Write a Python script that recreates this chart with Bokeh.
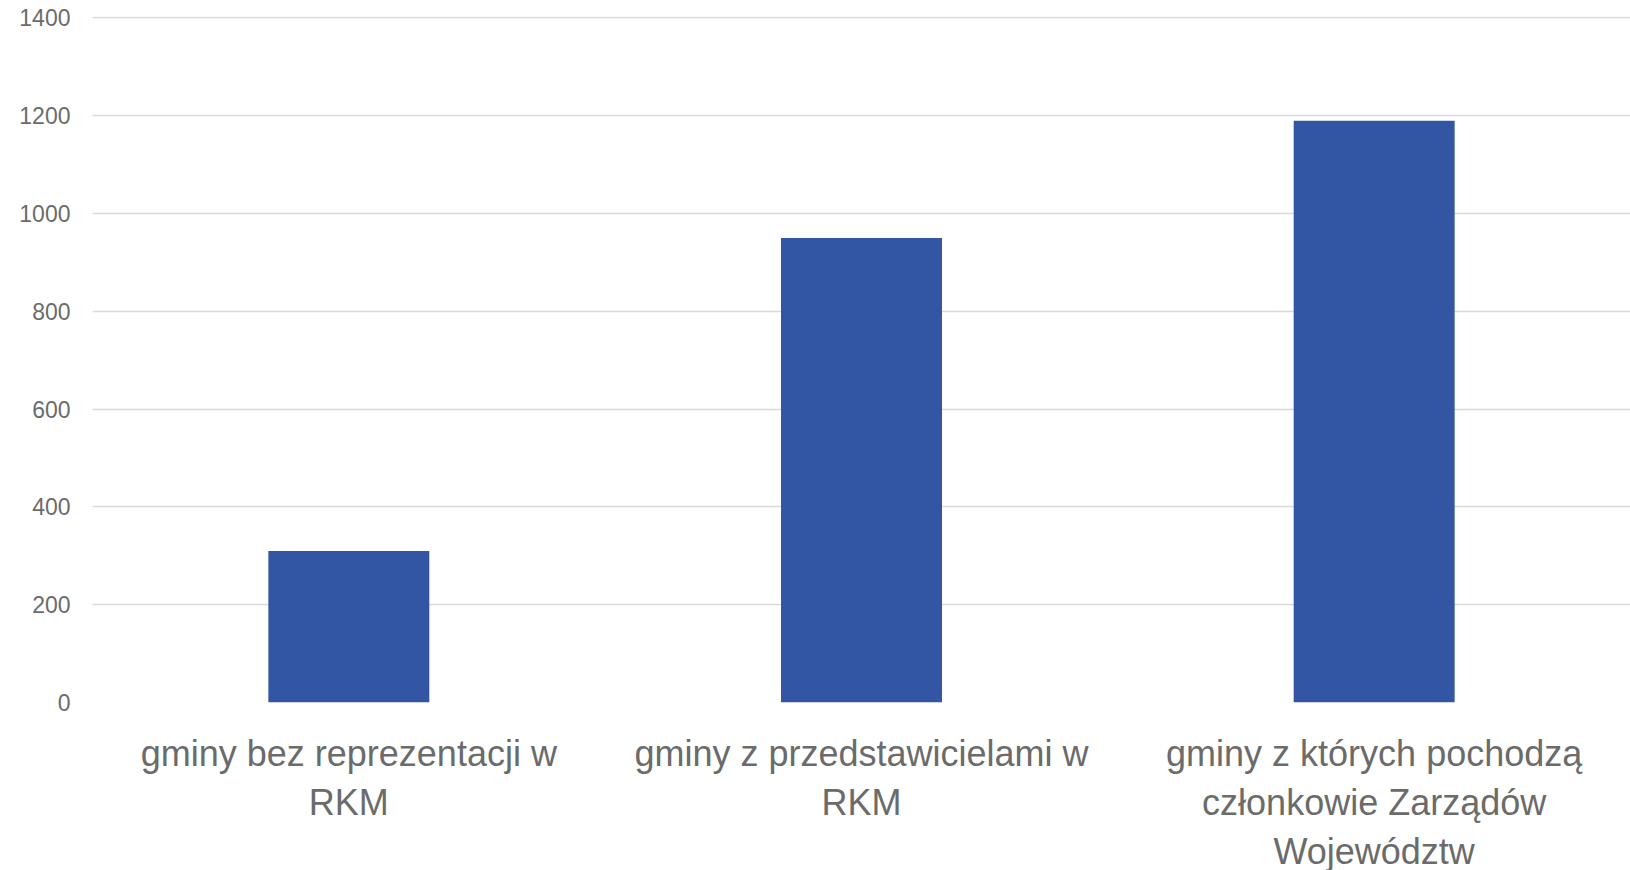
from bokeh.plotting import figure
from bokeh.models import FixedTicker
from bokeh.embed import file_html
from bokeh.resources import INLINE

categories = ["gminy bez reprezentacji w\nRKM",
              "gminy z przedstawicielami w\nRKM",
              "gminy z których pochodzą\nczłonkowie Zarządów\nWojewództw"]
values = [310, 950, 1190]
y_ticks = [0, 200, 400, 600, 800, 1000, 1200, 1400]

p = figure(x_range=categories, y_range=(0, 1403), width=1630, height=880,
           output_backend="svg", toolbar_location=None,
           min_border_left=92, min_border_right=0, min_border_top=16, min_border_bottom=178)
p.outline_line_color = None
p.vbar(x=categories, top=values, width=0.314, color="#3256A3", line_color=None)

p.yaxis.ticker = FixedTicker(ticks=y_ticks)
p.ygrid.ticker = FixedTicker(ticks=y_ticks)
p.ygrid.grid_line_color = "#d9d9d9"
p.ygrid.grid_line_width = 1.5
p.xgrid.grid_line_color = None

for ax in (p.xaxis, p.yaxis):
    ax.axis_line_color = None
    ax.major_tick_line_color = None
    ax.minor_tick_line_color = None
    ax.major_tick_out = 0
    ax.major_tick_in = 0
    ax.major_label_text_font = "Liberation Sans"
    ax.major_label_text_color = "#6b6b6b"

p.yaxis.major_label_text_font_size = "23px"
p.yaxis.major_label_standoff = 22
p.xaxis.major_label_text_font_size = "36px"
p.xaxis.major_label_standoff = 30

open("out.html", "w").write(file_html(p, INLINE))
